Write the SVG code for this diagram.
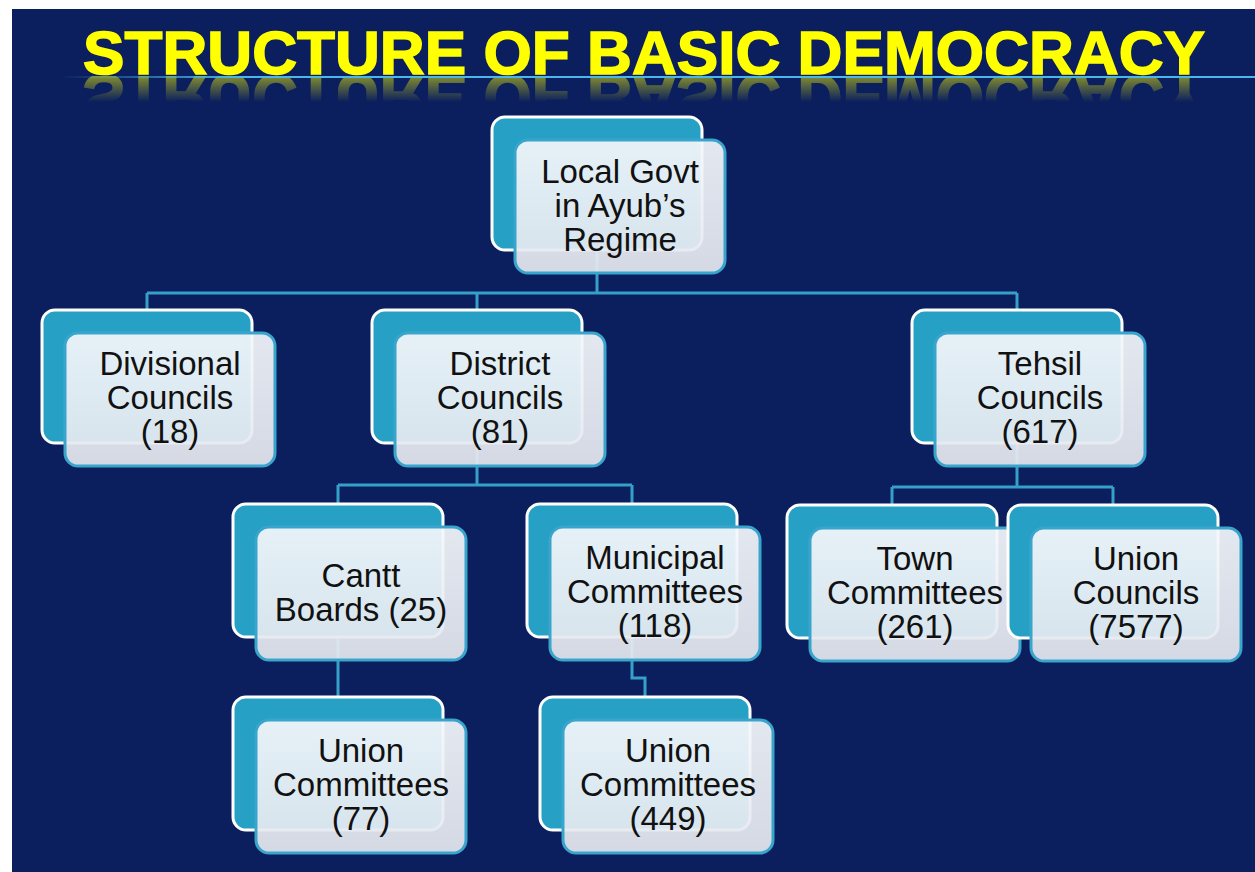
<svg xmlns="http://www.w3.org/2000/svg" xmlns:xlink="http://www.w3.org/1999/xlink" width="1255" height="872" viewBox="0 0 1255 872">
<defs>
<style>
.bg{fill:#0b1f5e}
.back{fill:#27a0c5;stroke:#ffffff;stroke-width:3}
.front{fill:url(#fg);fill-opacity:0.93;stroke:#39a5cc;stroke-width:3}
.lbl{font-family:"Liberation Sans",Arial,sans-serif;font-size:33px;fill:#111;text-anchor:middle}
.conn{fill:none;stroke:#35a0c8;stroke-width:3}
.title{font-family:"Liberation Sans",Arial,sans-serif;font-weight:bold;font-size:61px;fill:#ffff00;stroke:#ffff00;stroke-width:1.5}
</style>
<linearGradient id="fg" x1="0" y1="0" x2="0" y2="1">
<stop offset="0" stop-color="#f4f7fb"/>
<stop offset="1" stop-color="#e3e7ee"/>
</linearGradient>
<linearGradient id="hl" x1="0" y1="0" x2="1" y2="0">
<stop offset="0" stop-color="#4ab6ea" stop-opacity="0"/>
<stop offset="0.15" stop-color="#4ab6ea" stop-opacity="1"/>
<stop offset="1" stop-color="#4ab6ea" stop-opacity="1"/>
</linearGradient>
<linearGradient id="rf" x1="0" y1="0" x2="0" y2="1">
<stop offset="0" stop-color="#fff" stop-opacity="0.55"/>
<stop offset="1" stop-color="#fff" stop-opacity="0"/>
</linearGradient>
<mask id="rm" maskUnits="userSpaceOnUse" x="0" y="76" width="1255" height="30">
<rect x="0" y="76" width="1255" height="26" fill="url(#rf)"/>
</mask>
</defs>
<rect x="0" y="0" width="1255" height="872" fill="#ffffff"/>
<rect class="bg" x="12" y="9" width="1243" height="863"/>
<g id="title">
<text id="titleText" class="title" x="83" y="74" textLength="1122" lengthAdjust="spacingAndGlyphs">STRUCTURE OF BASIC DEMOCRACY</text>
<g mask="url(#rm)">
<use href="#titleText" xlink:href="#titleText" transform="translate(0,153) scale(1,-1.05)" opacity="0.9"/>
</g>
<rect x="60" y="76" width="1195" height="2" fill="url(#hl)"/>
</g>
<g id="connectors">
<path class="conn" d="M597 250 V293 M147 293 H1017 M147 293 V310 M477 293 V310 M1017 293 V310"/>
<path class="conn" d="M477 443 V485 M338 485 H632 M338 485 V504 M632 485 V504"/>
<path class="conn" d="M1017 443 V487 M892 487 H1113 M892 487 V505 M1113 487 V505"/>
<path class="conn" d="M338 637 V697"/>
<path class="conn" d="M632 637 V678 H645 V697"/>
</g>
<g id="root">
<rect class="back" x="492" y="117" width="210" height="133" rx="13"/>
<rect class="front" x="515" y="140" width="210" height="133" rx="13"/>
<text class="lbl" x="620" y="183">Local Govt</text>
<text class="lbl" x="620" y="217">in Ayub’s</text>
<text class="lbl" x="620" y="251">Regime</text>
</g>
<g id="divisional">
<rect class="back" x="42" y="310" width="210" height="133" rx="13"/>
<rect class="front" x="65" y="333" width="210" height="133" rx="13"/>
<text class="lbl" x="170" y="375">Divisional</text>
<text class="lbl" x="170" y="409">Councils</text>
<text class="lbl" x="170" y="443">(18)</text>
</g>
<g id="district">
<rect class="back" x="372" y="310" width="210" height="133" rx="13"/>
<rect class="front" x="395" y="333" width="210" height="133" rx="13"/>
<text class="lbl" x="500" y="375">District</text>
<text class="lbl" x="500" y="409">Councils</text>
<text class="lbl" x="500" y="443">(81)</text>
</g>
<g id="tehsil">
<rect class="back" x="912" y="310" width="210" height="133" rx="13"/>
<rect class="front" x="935" y="333" width="210" height="133" rx="13"/>
<text class="lbl" x="1040" y="375">Tehsil</text>
<text class="lbl" x="1040" y="409">Councils</text>
<text class="lbl" x="1040" y="443">(617)</text>
</g>
<g id="cantt">
<rect class="back" x="233" y="504" width="210" height="133" rx="13"/>
<rect class="front" x="256" y="527" width="210" height="133" rx="13"/>
<text class="lbl" x="361" y="587">Cantt</text>
<text class="lbl" x="361" y="621">Boards (25)</text>
</g>
<g id="municipal">
<rect class="back" x="527" y="504" width="210" height="133" rx="13"/>
<rect class="front" x="550" y="527" width="210" height="133" rx="13"/>
<text class="lbl" x="655" y="569">Municipal</text>
<text class="lbl" x="655" y="603">Committees</text>
<text class="lbl" x="655" y="637">(118)</text>
</g>
<g id="town">
<rect class="back" x="787" y="505" width="210" height="133" rx="13"/>
<rect class="front" x="810" y="528" width="210" height="133" rx="13"/>
<text class="lbl" x="915" y="570">Town</text>
<text class="lbl" x="915" y="604">Committees</text>
<text class="lbl" x="915" y="638">(261)</text>
</g>
<g id="union-councils">
<rect class="back" x="1008" y="505" width="210" height="133" rx="13"/>
<rect class="front" x="1031" y="528" width="210" height="133" rx="13"/>
<text class="lbl" x="1136" y="570">Union</text>
<text class="lbl" x="1136" y="604">Councils</text>
<text class="lbl" x="1136" y="638">(7577)</text>
</g>
<g id="union-committees-77">
<rect class="back" x="233" y="697" width="210" height="133" rx="13"/>
<rect class="front" x="256" y="720" width="210" height="133" rx="13"/>
<text class="lbl" x="361" y="762">Union</text>
<text class="lbl" x="361" y="796">Committees</text>
<text class="lbl" x="361" y="830">(77)</text>
</g>
<g id="union-committees-449">
<rect class="back" x="540" y="697" width="210" height="133" rx="13"/>
<rect class="front" x="563" y="720" width="210" height="133" rx="13"/>
<text class="lbl" x="668" y="762">Union</text>
<text class="lbl" x="668" y="796">Committees</text>
<text class="lbl" x="668" y="830">(449)</text>
</g>
</svg>
